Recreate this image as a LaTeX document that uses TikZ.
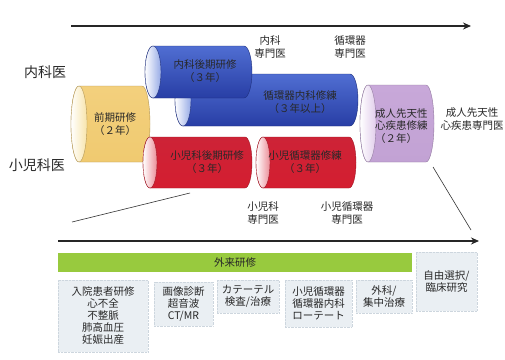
\documentclass[tikz,border=0pt]{standalone}
\usepackage{fontspec}
\setmainfont{Noto Sans CJK JP}
\usetikzlibrary{arrows.meta}
\definecolor{blueT}{RGB}{80,110,210}
\definecolor{blueM}{RGB}{200,210,245}
\definecolor{blueB}{RGB}{40,62,165}
\definecolor{blueF}{RGB}{150,170,230}
\definecolor{redT}{RGB}{205,35,55}
\definecolor{redM}{RGB}{250,220,225}
\definecolor{redB}{RGB}{212,30,48}
\definecolor{redF}{RGB}{235,140,150}
\definecolor{yelT}{RGB}{243,208,125}
\definecolor{yelM}{RGB}{251,234,182}
\definecolor{yelB}{RGB}{240,202,112}
\definecolor{yelF}{RGB}{248,228,170}
\definecolor{purT}{RGB}{200,168,217}
\definecolor{purM}{RGB}{226,208,236}
\definecolor{purB}{RGB}{194,162,212}
\definecolor{purF}{RGB}{225,205,235}
\definecolor{barG}{RGB}{152,202,62}
\definecolor{boxF}{RGB}{234,239,243}
\definecolor{boxD}{RGB}{205,214,222}
\definecolor{txt}{RGB}{40,40,40}
\newcommand\cyl[9]{%
  \pgfmathsetmacro\cylry{(#4-#3)/2}%
  \pgfmathsetmacro\cylyc{-(#3+#4)/2}%
  \path[draw=#8!75!black, line width=0.4pt, top color=#6, middle color=#7, bottom color=#8]
    (#1,-#3) -- (#2,-#3) arc[start angle=90,end angle=-90,x radius=#5,y radius=\cylry]
    -- (#1,-#4) arc[start angle=270,end angle=90,x radius=#5,y radius=\cylry] -- cycle;
  \path[draw=#8!75!black, line width=0.4pt, left color=white, right color=#9]
    (#1,\cylyc) ellipse[x radius=#5, y radius=\cylry];
}
\tikzset{
  lbl/.style={text=txt, font=\fontsize{10.5}{12.5}\selectfont, align=center, inner sep=0pt},
  big/.style={text=txt, font=\fontsize{14}{16}\selectfont, inner sep=0pt},
  intext/.style={text=txt, font=\fontsize{10.5}{12.5}\selectfont, align=center, inner sep=0pt},
  bx/.style={fill=boxF, draw=boxD, densely dotted, text=txt, font=\fontsize{10.5}{12}\selectfont, align=center, inner sep=0pt},
  axisarrow/.style={line width=1.4pt, draw=black!85, -{Stealth[length=8pt,width=7pt]}},
  thinline/.style={line width=0.6pt, draw=black!80}
}
\begin{document}
\begin{tikzpicture}[x=1pt,y=1pt]
\useasboundingbox (0,0) rectangle (505,-359);
\fill[white] (0,0) rectangle (505,-359);

% axes
\coordinate (ta) at (71,-26);
\coordinate (tb) at (471,-26);
\draw[axisarrow] (ta) -- (tb);
\coordinate (ba) at (58,-241);
\coordinate (bb) at (479,-241);
\draw[axisarrow] (ba) -- (bb);

% cylinders
\cyl{79}{142}{86}{162}{8}{yelT}{yelM}{yelB}{yelF}
\cyl{183}{350}{74}{126}{8}{blueT}{blueM}{blueB}{blueF}
\cyl{153}{244}{46}{98}{8}{blueT}{blueM}{blueB}{blueF}
\cyl{368}{426}{85}{162}{8}{purT}{purM}{purB}{purF}
\cyl{150}{245}{137}{188}{7}{redT}{redM}{redB}{redF}
\cyl{263}{349}{137}{188}{7}{redT}{redM}{redB}{redF}

% cylinder texts
\node[intext] (t1) at (115,-124) {前期研修\\（２年）};
\node[intext] (t2) at (205,-71) {内科後期研修\\（３年）};
\node[intext] (t3) at (300,-102) {循環器内科修練\\（３年以上）};
\node[intext] (t4) at (207,-162) {小児科後期研修\\（３年）};
\node[intext] (t5) at (305,-162) {小児循環器修練\\（３年）};
\node[intext, align=left, anchor=west] (t6) at (375,-126) {成人先天性\\心疾患修練\\（２年）};

% side labels
\node[big] (naika) at (45,-72) {内科医};
\node[big] (shoni) at (37,-165) {小児科医};

% specialist labels
\node[lbl] (s1) at (270,-47) {内科\\専門医};
\node[lbl] (s2) at (350,-47) {循環器\\専門医};
\node[lbl] (s3) at (263,-213) {小児科\\専門医};
\node[lbl] (s4) at (347,-213) {小児循環器\\専門医};
\node[lbl] (s5) at (472,-119) {成人先天性\\心疾患専門医};

% zoom lines
\coordinate (la) at (190,-193);
\coordinate (lb) at (72,-222);
\draw[thinline] (la) -- (lb);
\coordinate (ra) at (433,-167);
\coordinate (rb) at (471,-230);
\draw[thinline] (ra) -- (rb);

% green bar
\node[fill=barG, minimum width=354pt, minimum height=19pt, inner sep=0pt, text=txt, font=\fontsize{10.5}{12}\selectfont] (gairai) at (235,-262.5) {外来研修};

% boxes
\node[bx, minimum width=90pt, minimum height=72pt] (b1) at (103,-316) {入院患者研修\\心不全\\不整脈\\肺高血圧\\妊娠出産};
\node[bx, minimum width=59pt, minimum height=44pt] (b2) at (183.5,-304) {画像診断\\超音波\\CT/MR};
\node[bx, minimum width=62pt, minimum height=33pt] (b3) at (248,-296.5) {カテーテル\\検査/治療};
\node[bx, minimum width=67pt, minimum height=47pt] (b4) at (318.5,-303.5) {小児循環器\\循環器内科\\ローテート};
\node[bx, minimum width=56pt, minimum height=33pt] (b5) at (384,-296.5) {外科/\\集中治療};
\node[bx, minimum width=61pt, minimum height=59pt] (b6) at (446.5,-281.5) {自由選択/\\臨床研究};
\end{tikzpicture}
\end{document}
